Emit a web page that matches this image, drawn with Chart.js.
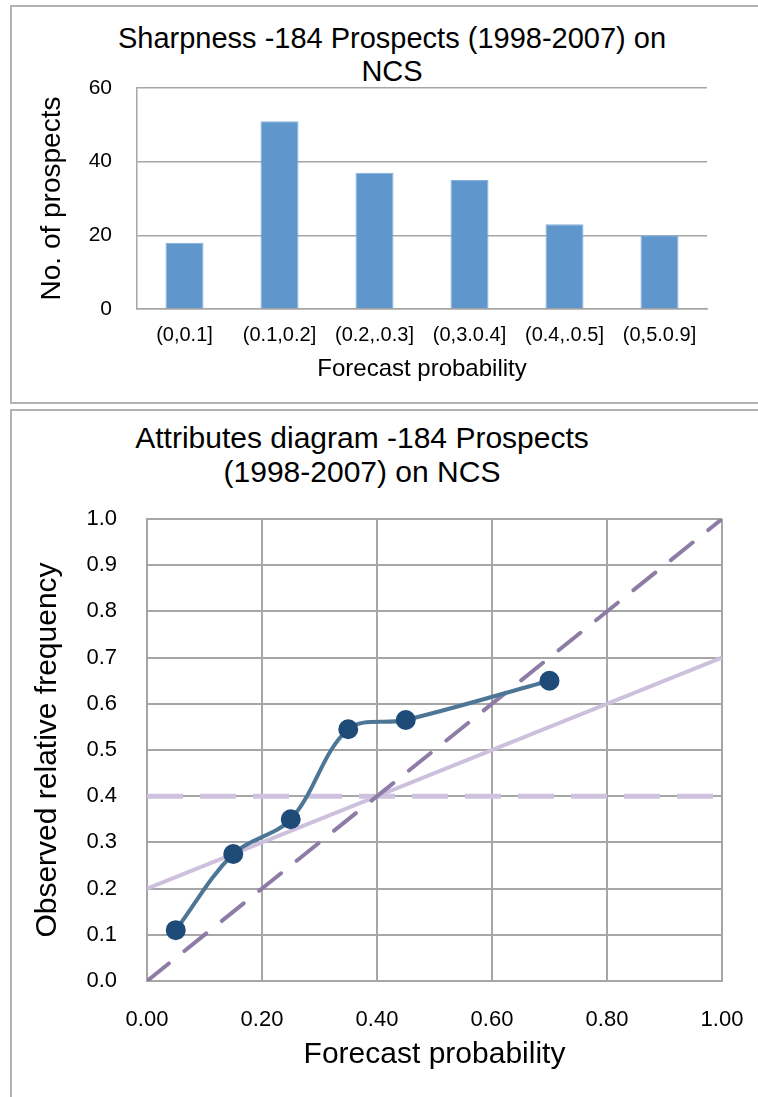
<!DOCTYPE html>
<html>
<head>
<meta charset="utf-8">
<script src="https://cdn.jsdelivr.net/npm/chart.js@4"></script>
<style>
  html, body { margin: 0; padding: 0; background: #fff; overflow: hidden; }
  body { width: 758px; height: 1097px; position: relative; font-family: "Liberation Sans", Arial, sans-serif; }
  .box { position: absolute; border: 2px solid #b3b3b3; box-sizing: border-box; }
  .title { position: absolute; text-align: center; color: #000; white-space: nowrap; }
  canvas { position: absolute; left: 0; }
</style>
</head>
<body>
<div class="box" style="left:10px; top:5px; width:800px; height:399px;"></div>
<div class="box" style="left:10px; top:409px; width:800px; height:760px;"></div>

<div class="title" style="left:92px; width:600px; top:22px; font-size:29px; line-height:33px;">Sharpness -184 Prospects (1998-2007) on<br>NCS</div>
<div class="title" style="left:62px; width:600px; top:421px; font-size:30px; line-height:34px;">Attributes diagram -184 Prospects<br>(1998-2007) on NCS</div>

<div style="position:absolute; left:0; top:0; width:758px; height:403px;"><canvas id="sharp"></canvas></div>
<div style="position:absolute; left:0; top:410px; width:758px; height:687px;"><canvas id="attr"></canvas></div>

<script>
// sharpness histogram
const sharpCats = ['(0,0.1]', '(0.1,0.2]', '(0.2,.0.3]', '(0,3.0.4]', '(0.4,.0.5]', '(0,5.0.9]'];
const sharpCounts = [18, 51, 37, 35, 23, 20];

// attributes diagram
const fcstProb = [0.05, 0.15, 0.25, 0.35, 0.45, 0.70];
const obsFreq = [0.11, 0.275, 0.35, 0.545, 0.565, 0.65];
const perfectX = [0, 1];
const perfectY = [0, 1];
const climX = [0, 1];
const climY = [0.4, 0.4];
const noSkillX = [0, 1];
const noSkillY = [0.2, 0.7];

const FONT = '"Liberation Sans", Arial, sans-serif';
const GRID = '#a6a6a6';
Chart.defaults.font.family = FONT;
Chart.defaults.color = '#000';
Chart.defaults.animation = false;

const pts = (xs, ys) => xs.map((x, i) => ({x: x, y: ys[i]}));

new Chart(document.getElementById('sharp'), {
  type: 'bar',
  data: {
    labels: sharpCats,
    datasets: [{
      data: sharpCounts,
      backgroundColor: '#5f96cb',
      borderColor: '#86b1dc',
      borderWidth: 1,
      categoryPercentage: 1,
      barPercentage: 0.4
    }]
  },
  options: {
    responsive: true,
    maintainAspectRatio: false,
    layout: { padding: { left: 30, top: 88, right: 51, bottom: 14 } },
    plugins: { legend: { display: false }, tooltip: { enabled: false } },
    scales: {
      x: {
        grid: { display: false, drawTicks: false },
        border: { display: true, color: GRID, width: 1.5 },
        ticks: { font: { size: 20 }, padding: 14, maxRotation: 0, autoSkip: false },
        title: { display: true, text: 'Forecast probability', font: { size: 24 }, padding: { top: 0, bottom: 5 } },
        afterFit: s => { s.height = 80; s.paddingLeft = 0; s.paddingRight = 0; }
      },
      y: {
        min: 0, max: 60,
        ticks: { stepSize: 20, font: { size: 21 }, padding: 25 },
        grid: { color: GRID, lineWidth: 1.5, drawTicks: false },
        border: { display: true, color: GRID, width: 1.5 },
        title: { display: true, text: 'No. of prospects', font: { size: 28 }, padding: { top: 5, bottom: 0 } },
        afterFit: s => { s.width = 107; s.paddingTop = 0; s.paddingBottom = 0; }
      }
    }
  }
});

new Chart(document.getElementById('attr'), {
  type: 'scatter',
  data: {
    datasets: [
      {
        label: 'Observed',
        data: pts(fcstProb, obsFreq),
        showLine: true,
        tension: 0.35,
        borderColor: '#4d7596',
        borderWidth: 4,
        pointRadius: 8,
        pointBackgroundColor: '#1f4b78',
        pointBorderColor: '#1f4b78'
      },
      {
        label: 'Perfect reliability',
        data: pts(perfectX, perfectY),
        showLine: true,
        borderColor: '#8e7ca7',
        borderWidth: 4,
        borderDash: [28, 20],
        borderCapStyle: 'round',
        pointRadius: 0
      },
      {
        label: 'Climatology',
        data: pts(climX, climY),
        showLine: true,
        borderColor: '#cfc2de',
        borderWidth: 5,
        borderDash: [36, 17],
        pointRadius: 0
      },
      {
        label: 'No skill',
        data: pts(noSkillX, noSkillY),
        showLine: true,
        borderColor: '#cdc0dd',
        borderWidth: 4,
        pointRadius: 0
      }
    ]
  },
  options: {
    responsive: true,
    maintainAspectRatio: false,
    layout: { padding: { left: 20, top: 109, right: 36, bottom: 16 } },
    plugins: { legend: { display: false }, tooltip: { enabled: false } },
    scales: {
      x: {
        type: 'linear', min: 0, max: 1,
        ticks: { stepSize: 0.2, font: { size: 22 }, padding: 26, callback: v => v.toFixed(2) },
        grid: { color: GRID, lineWidth: 2, drawTicks: false },
        border: { display: true, color: GRID, width: 2 },
        title: { display: true, text: 'Forecast probability', font: { size: 30 }, padding: { top: 0, bottom: 8 } },
        afterFit: s => { s.height = 100; s.paddingLeft = 0; s.paddingRight = 0; }
      },
      y: {
        min: 0, max: 1,
        ticks: { stepSize: 0.1, font: { size: 22 }, padding: 30, callback: v => v.toFixed(1) },
        grid: { color: GRID, lineWidth: 2, drawTicks: false },
        border: { display: true, color: GRID, width: 2 },
        title: { display: true, text: 'Observed relative frequency', font: { size: 30 }, padding: { top: 10, bottom: 0 } },
        afterFit: s => { s.width = 127; s.paddingTop = 0; s.paddingBottom = 0; }
      }
    }
  }
});
</script>
</body>
</html>
